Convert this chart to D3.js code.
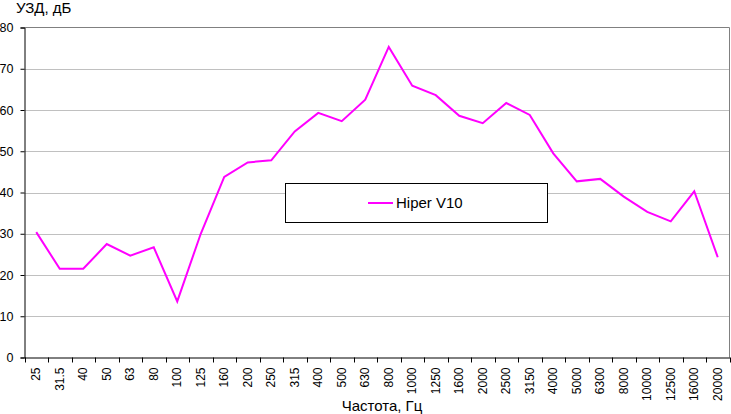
<!DOCTYPE html>
<html><head><meta charset="utf-8">
<script src="https://cdn.jsdelivr.net/npm/d3@7"></script>
<style>body{margin:0;background:#fff;} svg{display:block;font-family:"Liberation Sans",Arial,sans-serif;}</style>
</head><body>
<svg id="c" width="731" height="414"></svg>
<script>
const categories = ["25","31.5","40","50","63","80","100","125","160","200","250","315","400","500","630","800","1000","1250","1600","2000","2500","3150","4000","5000","6300","8000","10000","12500","16000","20000"];
const seriesName = "Hiper V10";
const values = [30.4,21.5,21.5,27.5,24.7,26.7,13.6,30,43.8,47.3,47.8,54.8,59.3,57.3,62.5,75.3,65.9,63.6,58.6,56.8,61.7,58.8,49.5,42.7,43.3,39.0,35.3,33.0,40.3,24.3];
const yTicks = [0,10,20,30,40,50,60,70,80];

const svg = d3.select("#c");
const L = 24.5, R = 729.5, T = 27.5, B = 357.5;
const x = d3.scaleBand().domain(categories).range([L, R]).padding(0);
const y = d3.scaleLinear().domain([0, 80]).range([B, T]);

// gridlines
svg.append("g").selectAll("line").data(yTicks.filter(d => d > 0 && d < 80)).join("line")
  .attr("x1", L).attr("x2", R).attr("y1", d => Math.round(y(d)) + 0.5).attr("y2", d => Math.round(y(d)) + 0.5)
  .attr("stroke", "#c0c0c0").attr("stroke-width", 1);
// top/right border
svg.append("path").attr("d", `M${L},${T}H${R}V${B}`).attr("fill", "none").attr("stroke", "#808080");

// y axis
const ya = svg.append("g").attr("transform", `translate(${L},0)`)
  .call(d3.axisLeft(y).tickValues(yTicks).tickSize(4).tickFormat(d3.format("d")));
ya.select(".domain").attr("stroke", "#000");
ya.selectAll(".tick line").attr("stroke", "#000");
ya.selectAll("text").attr("font-size", 12.5).attr("fill", "#000").attr("font-family", "Liberation Sans, Arial, sans-serif").attr("x", -11);

// x axis
const xa = svg.append("g").attr("transform", `translate(0,${B})`)
  .call(d3.axisBottom(x).tickSize(0).tickFormat(d => d));
xa.select(".domain").attr("stroke", "#000");
// tick marks at band boundaries
xa.append("g").selectAll("line").data(categories.concat(["__end"])).join("line")
  .attr("x1", (d, i) => Math.round(i < categories.length ? x(d) : R) + 0.5)
  .attr("x2", (d, i) => Math.round(i < categories.length ? x(d) : R) + 0.5)
  .attr("y1", 0).attr("y2", 5).attr("stroke", "#000");
xa.selectAll(".tick text")
  .attr("font-size", 12).attr("fill", "#000").attr("font-family", "Liberation Sans, Arial, sans-serif")
  .attr("transform", "rotate(-90)").attr("text-anchor", "end").attr("x", -10).attr("y", 0).attr("dy", "0.35em");

// line
const line = d3.line().x((d, i) => x(categories[i]) + x.bandwidth() / 2).y(d => y(d));
svg.append("path").datum(values).attr("d", line).attr("fill", "none")
  .attr("stroke", "#ff00ff").attr("stroke-width", 2).attr("stroke-linejoin", "miter");

// titles
svg.append("text").attr("x", 16).attr("y", 13).attr("font-size", 15).attr("fill", "#000").text("УЗД, дБ");
svg.append("text").attr("x", 382).attr("y", 411).attr("text-anchor", "middle").attr("font-size", 15).attr("fill", "#000").text("Частота, Гц");

// legend
const lg = svg.append("g");
lg.append("rect").attr("x", 285.5).attr("y", 183.5).attr("width", 262).attr("height", 39).attr("fill", "#fff").attr("stroke", "#000");
lg.append("line").attr("x1", 368).attr("x2", 393).attr("y1", 203).attr("y2", 203).attr("stroke", "#ff00ff").attr("stroke-width", 2);
lg.append("text").attr("x", 396).attr("y", 208).attr("font-size", 15).attr("fill", "#000").text(seriesName);
</script>
</body></html>
